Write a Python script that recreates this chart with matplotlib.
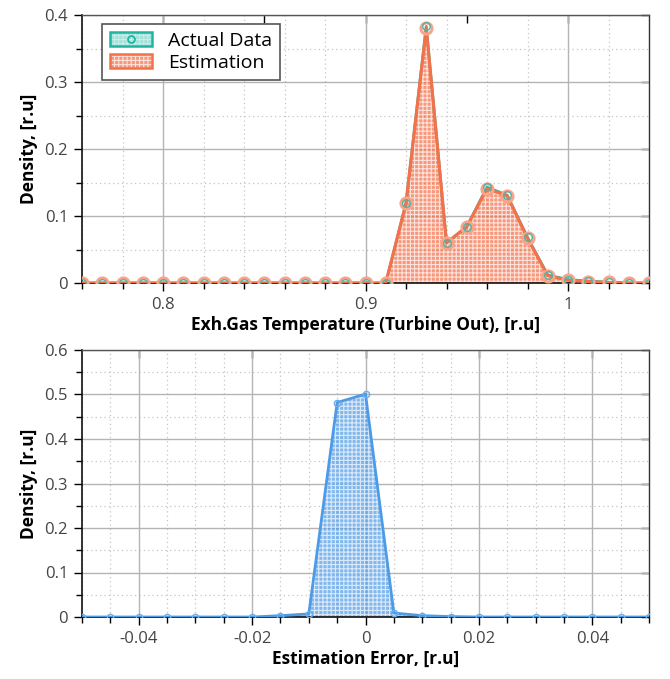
import numpy as np
import matplotlib
matplotlib.use("Agg")
import matplotlib.pyplot as plt
from matplotlib.ticker import MultipleLocator, FuncFormatter
from matplotlib.patches import Patch
from matplotlib.lines import Line2D

plt.rcParams['font.family'] = ['Open Sans', 'DejaVu Sans']
plt.rcParams['hatch.linewidth'] = 0.8

# Exhaust gas temperature distribution
temp_x = [0.76, 0.77, 0.78, 0.79, 0.80, 0.81, 0.82, 0.83, 0.84, 0.85,
          0.86, 0.87, 0.88, 0.89, 0.90, 0.91, 0.92, 0.93, 0.94, 0.95,
          0.96, 0.97, 0.98, 0.99, 1.00, 1.01, 1.02, 1.03, 1.04]
actual_density = [0, 0, 0, 0, 0, 0, 0, 0, 0, 0,
                  0, 0, 0, 0, 0, 0.0, 0.119, 0.383, 0.060, 0.084,
                  0.143, 0.131, 0.068, 0.012, 0.005, 0.003, 0.001, 0, 0]
estimated_density = [0, 0, 0, 0, 0, 0, 0, 0, 0, 0,
                     0, 0, 0, 0, 0, 0.0, 0.119, 0.381, 0.060, 0.084,
                     0.141, 0.130, 0.067, 0.011, 0.004, 0.002, 0.001, 0, 0]

# Estimation error distribution
err_x = [-0.05, -0.045, -0.04, -0.035, -0.03, -0.025, -0.02, -0.015, -0.01, -0.005,
         0.0, 0.005, 0.01, 0.015, 0.02, 0.025, 0.03, 0.035, 0.04, 0.045, 0.05]
err_density = [0, 0, 0, 0, 0, 0, 0, 0.003, 0.007, 0.482,
               0.501, 0.009, 0.003, 0.001, 0, 0, 0, 0, 0, 0, 0]

TEAL = '#1fb5a0'
ORANGE = '#f4714a'
BLUE = '#4d9be6'

fmt = FuncFormatter(lambda v, p: '%g' % round(v, 6) if abs(v) > 1e-12 else '0')


def style_axes(ax, xmajor, xminor, xtop, ymajor, yminor):
    ax.xaxis.set_major_locator(MultipleLocator(xmajor))
    ax.xaxis.set_minor_locator(MultipleLocator(xminor))
    ax.yaxis.set_major_locator(MultipleLocator(ymajor))
    ax.yaxis.set_minor_locator(MultipleLocator(yminor))
    ax.xaxis.set_major_formatter(fmt)
    ax.yaxis.set_major_formatter(fmt)
    ax.grid(which='major', color='#b4b4b4', linewidth=1.0, linestyle='-')
    ax.grid(which='minor', color='#c4c4c4', linewidth=0.9, linestyle=(0, (1, 2.5)))
    ax.set_axisbelow(True)
    ax.tick_params(which='major', direction='out', length=6, width=1.0,
                   labelsize=12, labelcolor='#444444', pad=4)
    ax.tick_params(which='minor', direction='out', length=4, width=1.0)
    for s in ['left', 'bottom']:
        ax.spines[s].set_linewidth(1.2)
        ax.spines[s].set_color('#111111')
    ax.spines['top'].set_color('#555555')
    ax.spines['right'].set_color('#333333')
    ax.spines['top'].set_linewidth(1.0)
    ax.spines['right'].set_linewidth(1.0)
    # mirrored inward ticks on top and right
    top = ax.secondary_xaxis('top')
    top.xaxis.set_major_locator(MultipleLocator(xtop))
    top.tick_params(which='major', direction='in', length=6, width=1.0, labeltop=False)
    top.tick_params(which='minor', length=0)
    top.spines['top'].set_visible(False)
    right = ax.secondary_yaxis('right')
    right.yaxis.set_major_locator(MultipleLocator(ymajor))
    right.tick_params(which='major', direction='in', length=6, width=1.0, labelright=False)
    right.tick_params(which='minor', length=0)
    right.spines['right'].set_visible(False)


fig = plt.figure(figsize=(6.70, 6.79), dpi=100)
ax1 = fig.add_axes([82 / 670, 1 - 283 / 679, (649 - 82) / 670, (283 - 15) / 679])
ax2 = fig.add_axes([82 / 670, 1 - 617 / 679, (649 - 82) / 670, (617 - 350) / 679])

# Top panel
ax1.fill_between(temp_x, estimated_density, 0, facecolor=ORANGE, edgecolor='white',
                 hatch='++++', linewidth=0, alpha=0.72, zorder=2)
ax1.plot(temp_x, actual_density, color=TEAL, linewidth=2.0, zorder=3)
ax1.plot(temp_x, estimated_density, color=ORANGE, linewidth=2.2, zorder=4)
ax1.plot(temp_x, estimated_density, linestyle='none', marker='o', markersize=8,
         markerfacecolor='none', markeredgecolor='#f7a58a', markeredgewidth=2.2, zorder=5)
ax1.plot(temp_x, actual_density, linestyle='none', marker='o', markersize=5.5,
         markerfacecolor='none', markeredgecolor='#4fb3a8', markeredgewidth=1.0, zorder=6)
ax1.set_xlim(0.76, 1.04)
ax1.set_ylim(0, 0.4)
style_axes(ax1, 0.1, 0.02, 0.05, 0.1, 0.05)
ax1.set_xlabel('Exh.Gas Temperature (Turbine Out), [r.u]', fontsize=12.5,
               fontweight='bold', labelpad=2)
ax1.set_ylabel('Density, [r.u]', fontsize=12.5, fontweight='bold', labelpad=5)

h_actual = (Patch(facecolor=TEAL, edgecolor='white', hatch='++++', linewidth=0, alpha=0.4),
            Patch(facecolor='none', edgecolor=TEAL, linewidth=1.8),
            Line2D([], [], linestyle='none', marker='o', markersize=5,
                   markerfacecolor='none', markeredgecolor=TEAL, markeredgewidth=1.3))
h_est = (Patch(facecolor=ORANGE, edgecolor='white', hatch='++++', linewidth=0, alpha=0.72),
         Patch(facecolor='none', edgecolor=ORANGE, linewidth=1.8))
leg = ax1.legend([h_actual, h_est], ['Actual Data', 'Estimation'], loc='upper left',
                 bbox_to_anchor=(0.035, 0.965), fontsize=14, frameon=True, fancybox=False,
                 edgecolor='#555555', framealpha=1, handlelength=2.2, handleheight=0.75,
                 borderpad=0.4, labelspacing=0.2, handletextpad=0.8, borderaxespad=0)
leg.get_frame().set_linewidth(1.2)

# Bottom panel
ax2.fill_between(err_x, err_density, 0, facecolor=BLUE, edgecolor='white',
                 hatch='++++', linewidth=0, alpha=0.7, zorder=2)
ax2.plot(err_x, err_density, color=BLUE, linewidth=2.0, zorder=4, marker='o',
         markersize=4.5, markerfacecolor='none', markeredgecolor='#6aaeea',
         markeredgewidth=1.0)
ax2.set_xlim(-0.05, 0.05)
ax2.set_ylim(0, 0.6)
style_axes(ax2, 0.02, 0.005, 0.02, 0.1, 0.05)
ax2.set_xlabel('Estimation Error, [r.u]', fontsize=12.5, fontweight='bold', labelpad=2)
ax2.set_ylabel('Density, [r.u]', fontsize=12.5, fontweight='bold', labelpad=5)

fig.savefig('out.png', dpi=100)
